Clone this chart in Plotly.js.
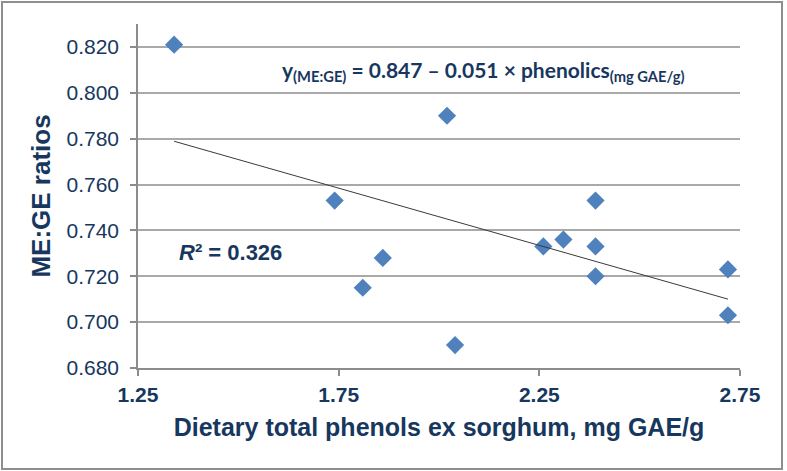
<!DOCTYPE html>
<html>
<head>
<meta charset="utf-8">
<script src="https://cdn.plot.ly/plotly-3.0.1.min.js"></script>
<style>
  body { margin: 0; background: #fff; }
  #wrap { position: relative; width: 787px; height: 471px; }
  #chart { width: 787px; height: 471px; }
  #frame {
    position: absolute; left: 1px; top: 1px; width: 778px; height: 465px;
    border: 2px solid #8e8e8e; pointer-events: none;
  }
</style>
</head>
<body>
<div id="wrap">
  <div id="chart"></div>
  <div id="frame"></div>
</div>
<script>
// phenolics (mg GAE/g) vs ME:GE ratio, one point per diet
const phenols = [1.34, 1.74, 1.81, 1.86, 2.02, 2.04, 2.26, 2.31, 2.39, 2.39, 2.39, 2.72, 2.72];
const meGe = [0.821, 0.753, 0.715, 0.728, 0.790, 0.690, 0.733, 0.736, 0.753, 0.733, 0.720, 0.723, 0.703];
const yTicks = [0.68, 0.70, 0.72, 0.74, 0.76, 0.78, 0.80, 0.82];
const xTicks = [1.25, 1.75, 2.25, 2.75];

const NAVY = '#17375e';
const GRID = '#a9a9a9';
const AXIS = '#8c8c8c';
const SANS = 'Liberation Sans, Arial, sans-serif';

// least squares fit for the trendline
function linearFit(xs, ys) {
  const n = xs.length;
  const mx = xs.reduce((a, b) => a + b, 0) / n;
  const my = ys.reduce((a, b) => a + b, 0) / n;
  let sxy = 0, sxx = 0;
  xs.forEach((x, i) => { sxy += (x - mx) * (ys[i] - my); sxx += (x - mx) ** 2; });
  const slope = sxy / sxx;
  return { slope, intercept: my - slope * mx };
}

function renderChart() {
  const fit = linearFit(phenols, meGe);
  const xMin = Math.min(...phenols), xMax = Math.max(...phenols);

  const traces = [
    {
      x: phenols, y: meGe, type: 'scatter', mode: 'markers',
      marker: { symbol: 'diamond', size: 14, color: '#4f81bd', line: { width: 0 } },
      hoverinfo: 'x+y',
    },
    {
      x: [xMin, xMax],
      y: [fit.intercept + fit.slope * xMin, fit.intercept + fit.slope * xMax],
      type: 'scatter', mode: 'lines',
      line: { color: '#3a3a3a', width: 1 },
      hoverinfo: 'skip',
    },
  ];

  const layout = {
    width: 787, height: 471,
    margin: { t: 24, r: 47, b: 103, l: 138 },
    paper_bgcolor: '#fff', plot_bgcolor: '#fff',
    showlegend: false,
    font: { family: SANS, color: NAVY },
    xaxis: {
      range: [1.25, 2.75], tickvals: xTicks, ticktext: xTicks.map(v => v.toFixed(2)),
      showgrid: false, zeroline: false,
      showline: true, linecolor: AXIS, linewidth: 1.5,
      ticks: 'outside', ticklen: 6, tickcolor: AXIS, tickwidth: 1.5,
      ticklabelstandoff: 1,
      tickfont: { family: SANS, size: 21, color: NAVY, weight: 'bold' },
      title: {
        text: 'Dietary total phenols ex sorghum, mg GAE/g', standoff: 14,
        font: { family: SANS, size: 25, color: NAVY, weight: 'bold' },
      },
    },
    yaxis: {
      range: [0.68, 0.83], tickvals: yTicks, ticktext: yTicks.map(v => v.toFixed(3)),
      showgrid: true, gridcolor: GRID, gridwidth: 1.5, zeroline: false,
      showline: true, linecolor: AXIS, linewidth: 1.5,
      ticks: 'outside', ticklen: 6, tickcolor: AXIS, tickwidth: 1.5,
      ticklabelstandoff: 7,
      tickfont: { family: SANS, size: 21, color: NAVY },
      title: {
        text: 'ME:GE ratios', standoff: 8,
        font: { family: SANS, size: 26, color: NAVY, weight: 'bold' },
      },
    },
    annotations: [
      {
        x: 1.604, y: 0.8095, xref: 'x', yref: 'y', xanchor: 'left', yanchor: 'middle',
        showarrow: false,
        text: 'y<sub>(ME:GE)</sub> = 0.847 – 0.051 × phenolics<sub>(mg GAE/g)</sub>',
        font: { family: 'Lato, Open Sans, sans-serif', size: 21, color: NAVY, weight: 'bold' },
      },
      {
        x: 1.347, y: 0.7304, xref: 'x', yref: 'y', xanchor: 'left', yanchor: 'middle',
        showarrow: false,
        text: '<i>R</i>² = 0.326',
        font: { family: SANS, size: 22, color: NAVY, weight: 'bold' },
      },
    ],
  };

  Plotly.newPlot('chart', traces, layout, { displayModeBar: false, responsive: false });
}

renderChart();
</script>
</body>
</html>
